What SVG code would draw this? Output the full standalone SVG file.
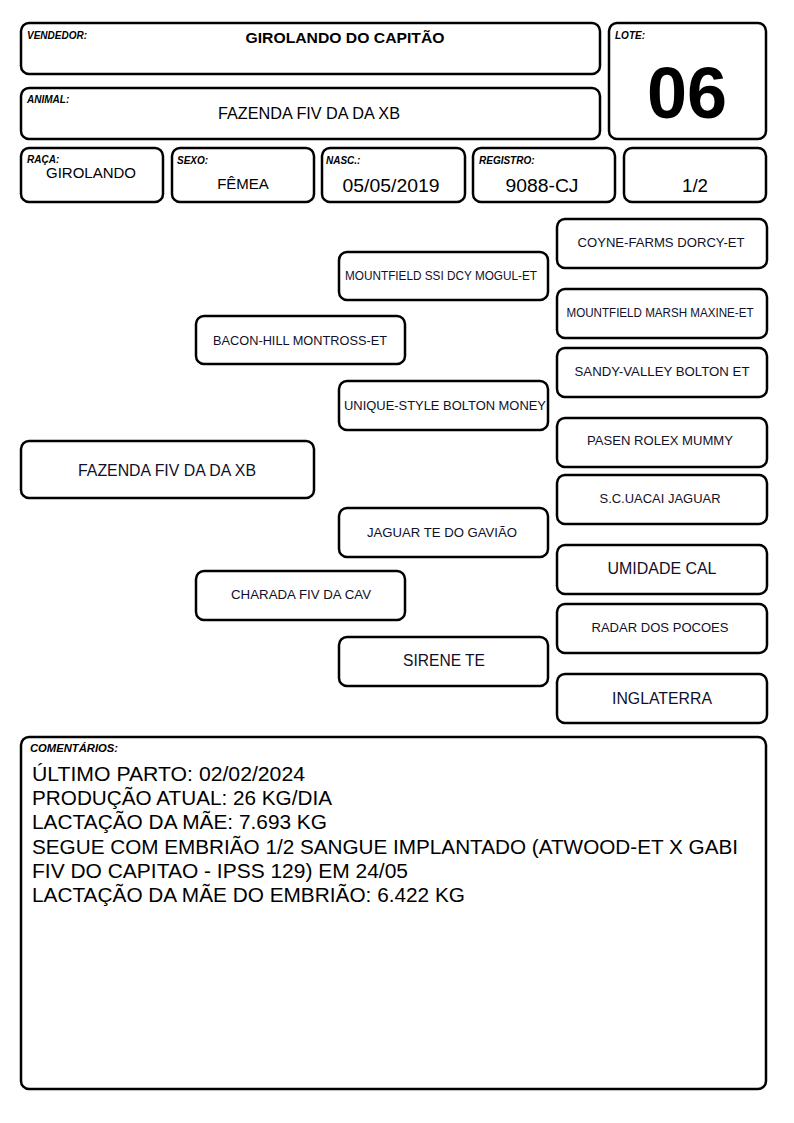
<svg xmlns="http://www.w3.org/2000/svg" width="794" height="1123" viewBox="0 0 794 1123">
<style>
.b{fill:#fff;stroke:#000;stroke-width:2.5}
text{font-family:"Liberation Sans",Arial,sans-serif;fill:#000}
.lb{font-size:10px;font-weight:bold;font-style:italic}
.v{font-size:16px;text-anchor:middle}
.p{font-size:13px;text-anchor:middle;fill:#10102a}
.pl{font-size:16px;text-anchor:middle;fill:#10102a}
.c{font-size:20px}
</style>
<rect width="794" height="1123" fill="#fff"/>
<g id="vendedor"><rect class="b" x="21" y="23" width="579" height="51" rx="8"/><text class="lb" x="27" y="39">VENDEDOR:</text><text class="v" x="345" y="43" style="font-weight:bold;font-size:15px" textLength="199" lengthAdjust="spacingAndGlyphs">GIROLANDO DO CAPITÃO</text></g>
<g id="animal"><rect class="b" x="21" y="88" width="579" height="51" rx="8"/><text class="lb" x="27" y="103">ANIMAL:</text><text class="v" x="309" y="119" textLength="182" lengthAdjust="spacingAndGlyphs">FAZENDA FIV DA DA XB</text></g>
<g id="lote"><rect class="b" x="609" y="23" width="157" height="116" rx="8"/><text class="lb" x="615" y="39">LOTE:</text><text x="687" y="118" style="font-size:72px;font-weight:bold;text-anchor:middle">06</text></g>
<g id="raca"><rect class="b" x="21" y="148" width="142" height="54" rx="8"/><text class="lb" x="27" y="163">RAÇA:</text><text class="v" x="91" y="178" style="font-size:15px">GIROLANDO</text></g>
<g id="sexo"><rect class="b" x="172" y="148" width="142" height="54" rx="8"/><text class="lb" x="177" y="164">SEXO:</text><text class="v" x="243" y="189" style="font-size:15px">FÊMEA</text></g>
<g id="nasc"><rect class="b" x="322" y="148" width="143" height="54" rx="8"/><text class="lb" x="326" y="164">NASC.:</text><text class="v" x="391" y="192" style="font-size:18px" textLength="97" lengthAdjust="spacingAndGlyphs">05/05/2019</text></g>
<g id="registro"><rect class="b" x="473" y="148" width="142" height="54" rx="8"/><text class="lb" x="479" y="164">REGISTRO:</text><text class="v" x="542" y="192" style="font-size:18px" textLength="73" lengthAdjust="spacingAndGlyphs">9088-CJ</text></g>
<g id="grau"><rect class="b" x="624" y="148" width="142" height="54" rx="8"/><text class="v" x="695" y="192" style="font-size:18px" textLength="26" lengthAdjust="spacingAndGlyphs">1/2</text></g>
<g id="connectors"></g>
<g id="n-coyne"><rect class="b" x="557" y="219" width="210" height="49" rx="8"/><text class="p" x="661" y="247" textLength="167" lengthAdjust="spacingAndGlyphs">COYNE-FARMS DORCY-ET</text></g>
<g id="n-mogul"><rect class="b" x="339" y="252" width="209" height="48" rx="8"/><text class="p" x="441" y="280" style="font-size:12px" textLength="192" lengthAdjust="spacingAndGlyphs">MOUNTFIELD SSI DCY MOGUL-ET</text></g>
<g id="n-maxine"><rect class="b" x="557" y="289" width="210" height="49" rx="8"/><text class="p" x="660" y="317" style="font-size:12px" textLength="187" lengthAdjust="spacingAndGlyphs">MOUNTFIELD MARSH MAXINE-ET</text></g>
<g id="n-bacon"><rect class="b" x="196" y="316" width="209" height="48" rx="8"/><text class="p" x="300" y="345" textLength="174" lengthAdjust="spacingAndGlyphs">BACON-HILL MONTROSS-ET</text></g>
<g id="n-sandy"><rect class="b" x="557" y="348" width="210" height="49" rx="8"/><text class="p" x="662" y="376" textLength="175" lengthAdjust="spacingAndGlyphs">SANDY-VALLEY BOLTON ET</text></g>
<g id="n-unique"><rect class="b" x="339" y="381" width="209" height="49" rx="8"/><text class="p" x="445" y="410" textLength="202" lengthAdjust="spacingAndGlyphs">UNIQUE-STYLE BOLTON MONEY</text></g>
<g id="n-pasen"><rect class="b" x="557" y="418" width="210" height="49" rx="8"/><text class="p" x="660" y="445" textLength="146" lengthAdjust="spacingAndGlyphs">PASEN ROLEX MUMMY</text></g>
<g id="n-animal"><rect class="b" x="21" y="441" width="293" height="57" rx="8"/><text class="pl" x="167" y="476" textLength="178" lengthAdjust="spacingAndGlyphs">FAZENDA FIV DA DA XB</text></g>
<g id="n-uacai"><rect class="b" x="557" y="475" width="210" height="49" rx="8"/><text class="p" x="660" y="503" textLength="121" lengthAdjust="spacingAndGlyphs">S.C.UACAI JAGUAR</text></g>
<g id="n-jaguar"><rect class="b" x="339" y="508" width="209" height="49" rx="8"/><text class="p" x="442" y="537" textLength="150" lengthAdjust="spacingAndGlyphs">JAGUAR TE DO GAVIÃO</text></g>
<g id="n-umidade"><rect class="b" x="557" y="545" width="210" height="49" rx="8"/><text class="pl" x="662" y="574" textLength="109" lengthAdjust="spacingAndGlyphs">UMIDADE CAL</text></g>
<g id="n-charada"><rect class="b" x="196" y="571" width="209" height="49" rx="8"/><text class="p" x="301" y="599" textLength="140" lengthAdjust="spacingAndGlyphs">CHARADA FIV DA CAV</text></g>
<g id="n-radar"><rect class="b" x="557" y="604" width="210" height="49" rx="8"/><text class="p" x="660" y="632" textLength="137" lengthAdjust="spacingAndGlyphs">RADAR DOS POCOES</text></g>
<g id="n-sirene"><rect class="b" x="339" y="637" width="209" height="49" rx="8"/><text class="pl" x="444" y="666" textLength="82" lengthAdjust="spacingAndGlyphs">SIRENE TE</text></g>
<g id="n-inglaterra"><rect class="b" x="557" y="674" width="210" height="49" rx="8"/><text class="pl" x="662" y="704" textLength="100" lengthAdjust="spacingAndGlyphs">INGLATERRA</text></g>
<g id="comentarios"><rect class="b" x="21" y="737" width="745" height="352" rx="8"/>
<text class="lb" x="30" y="752" textLength="88" lengthAdjust="spacingAndGlyphs">COMENTÁRIOS:</text>
<text class="c" x="32" y="781" textLength="273" lengthAdjust="spacingAndGlyphs">ÚLTIMO PARTO: 02/02/2024</text>
<text class="c" x="32" y="805" textLength="300" lengthAdjust="spacingAndGlyphs">PRODUÇÃO ATUAL: 26 KG/DIA</text>
<text class="c" x="32" y="829" textLength="295" lengthAdjust="spacingAndGlyphs">LACTAÇÃO DA MÃE: 7.693 KG</text>
<text class="c" x="32" y="854" textLength="706" lengthAdjust="spacingAndGlyphs">SEGUE COM EMBRIÃO 1/2 SANGUE IMPLANTADO (ATWOOD-ET X GABI</text>
<text class="c" x="32" y="878" textLength="376" lengthAdjust="spacingAndGlyphs">FIV DO CAPITAO - IPSS 129) EM 24/05</text>
<text class="c" x="32" y="902" textLength="433" lengthAdjust="spacingAndGlyphs">LACTAÇÃO DA MÃE DO EMBRIÃO: 6.422 KG</text>
</g>
</svg>
